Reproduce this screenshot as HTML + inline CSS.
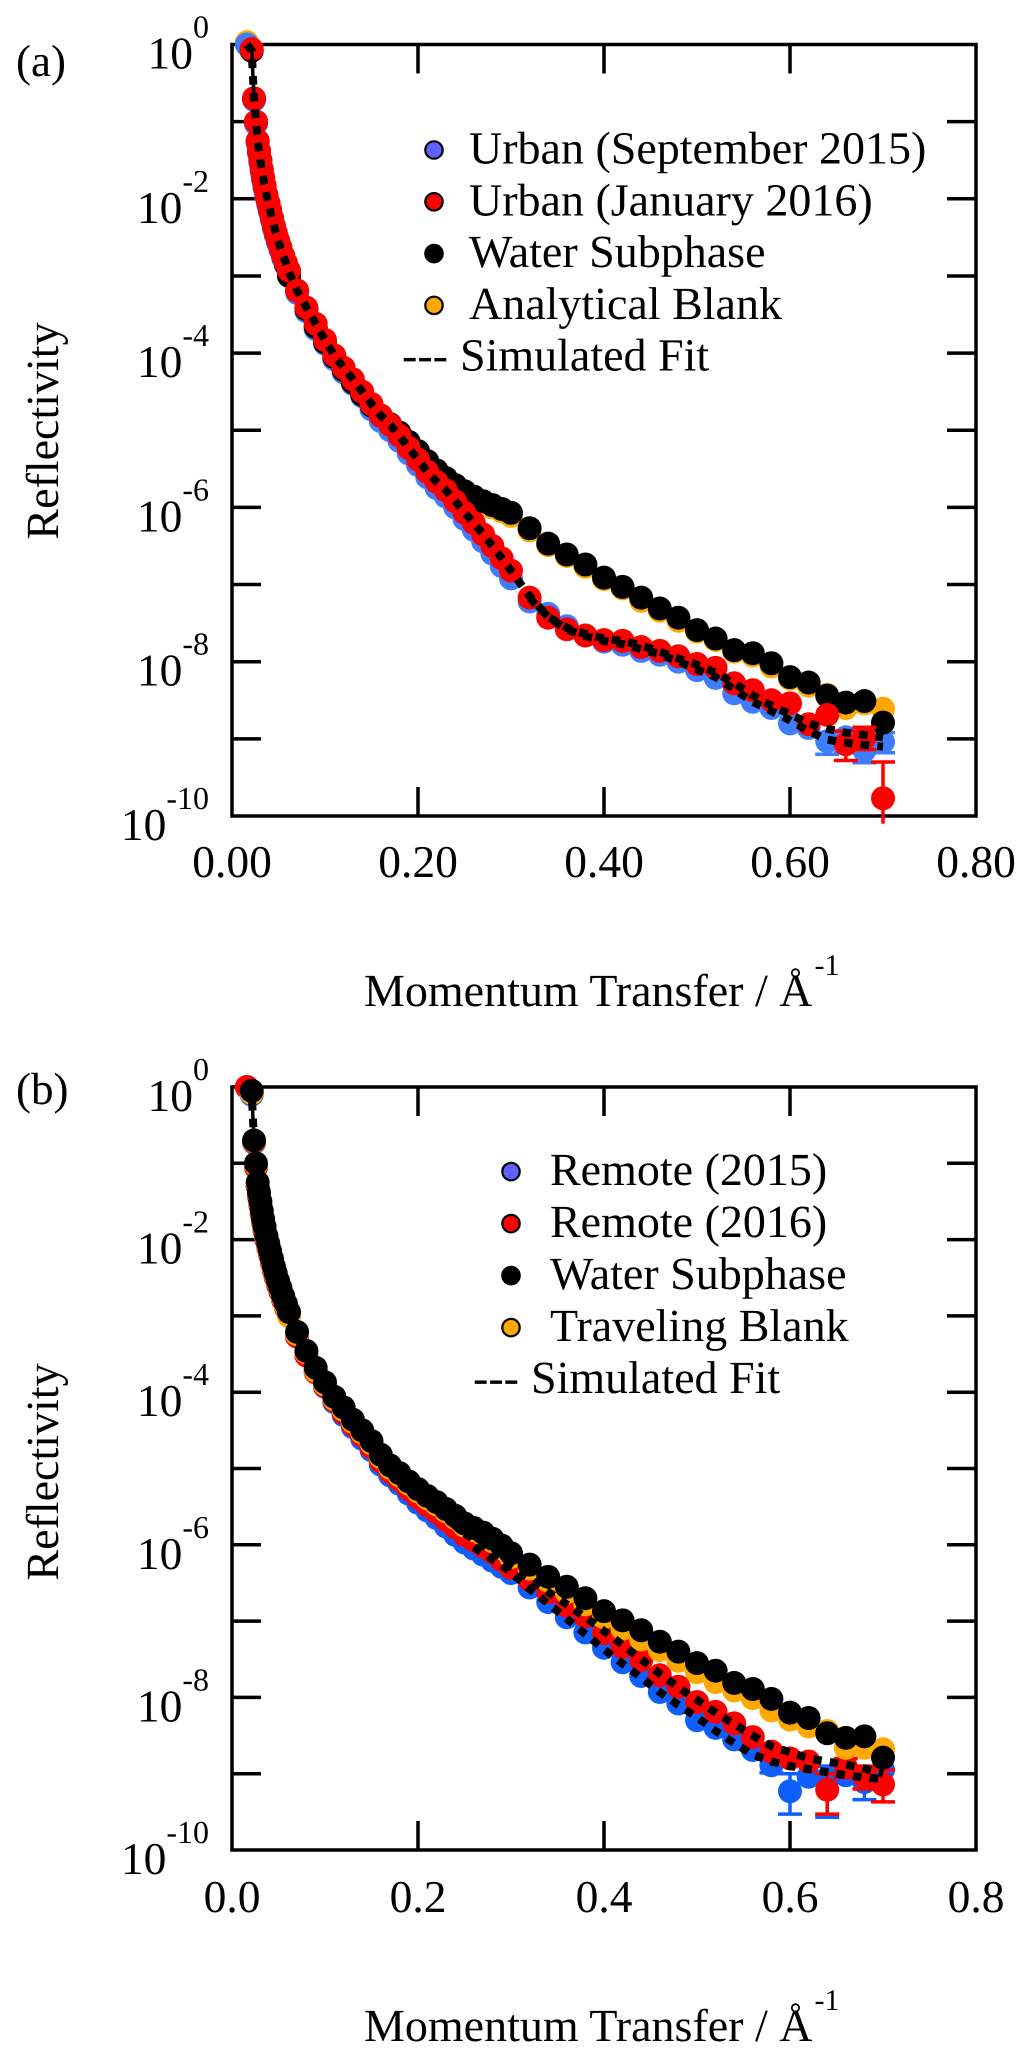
<!DOCTYPE html>
<html lang="en">
<head>
<meta charset="utf-8">
<title>Reflectivity vs Momentum Transfer</title>
<style>
html,body{margin:0;padding:0;background:#fff;}
svg{display:block;}
text{font-family:"Liberation Serif","Times New Roman",serif;fill:#000;text-rendering:geometricPrecision;}
</style>
</head>
<body>
<svg id="figure" xmlns="http://www.w3.org/2000/svg" width="1033" height="2056" viewBox="0 0 1033 2056">
  <rect width="1033" height="2056" fill="#fff"/>
  <g id="panelA"></g>
  <g id="panelB"></g>
</svg>
<script>
// Shared data: momentum transfer grid (1/Angstrom)
const qValues = [0.016,0.0212,0.0237,0.0258,0.0276,0.029,0.0305,0.032,0.0335,0.035,0.037,0.039,0.041,0.043,0.045,0.047,0.0495,0.052,0.055,0.058,0.0613,0.07,0.08,0.09,
  0.10,0.11,0.12,0.13,0.14,0.15,0.16,0.17,0.18,0.19,0.20,0.21,0.22,0.23,0.24,0.25,0.26,0.27,0.28,0.29,0.30,
  0.32,0.34,0.36,0.38,0.40,0.42,0.44,0.46,0.48,0.50,0.52,0.54,0.56,0.58,0.60,0.62,0.64,0.66,0.68,0.70];

// Tick labels
const xTicks = [0,0.2,0.4,0.6,0.8];
const xLabelsA = ['0.00','0.20','0.40','0.60','0.80'];
const xLabelsB = ['0.0','0.2','0.4','0.6','0.8'];
const yDecades = [0,-1,-2,-3,-4,-5,-6,-7,-8,-9,-10];
const yLabelled = [0,-2,-4,-6,-8,-10];

// Panel (a): log10(reflectivity) per q
const urbanSep2015 = [0,-0.08,-0.72,-1.03,-1.28,-1.41,-1.53,-1.65,-1.76,-1.86,-1.98,-2.08,-2.18,-2.28,-2.38,-2.47,-2.57,-2.66,-2.77,-2.86,-2.97,-3.22,-3.46,-3.69,
  -3.88,-4.08,-4.25,-4.4,-4.56,-4.73,-4.88,-5.0,-5.14,-5.3,-5.45,-5.61,-5.75,-5.86,-6.0,-6.15,-6.29,-6.44,-6.6,-6.76,-6.92,
  -7.22,-7.38,-7.54,-7.66,-7.74,-7.78,-7.86,-7.91,-8.0,-8.11,-8.21,-8.41,-8.52,-8.6,-8.8,-8.86,-9.03,-8.98,-9.15,-9.04];
const urbanJan2016 = [null,-0.06,-0.7,-1.0,-1.25,-1.38,-1.5,-1.62,-1.73,-1.83,-1.95,-2.05,-2.15,-2.25,-2.35,-2.44,-2.54,-2.63,-2.74,-2.83,-2.93,-3.19,-3.41,-3.62,
  -3.83,-4.03,-4.19,-4.34,-4.5,-4.66,-4.81,-4.93,-5.07,-5.23,-5.38,-5.54,-5.67,-5.78,-5.92,-6.07,-6.2,-6.35,-6.5,-6.66,-6.82,
  -7.17,-7.43,-7.58,-7.66,-7.72,-7.73,-7.81,-7.86,-7.93,-8.03,-8.08,-8.28,-8.37,-8.50,-8.54,-8.81,-8.69,-9.07,-8.99,-9.77];
const waterA = [null,-0.08,-0.7,-1.0,-1.25,-1.38,-1.5,-1.62,-1.73,-1.83,-1.95,-2.05,-2.15,-2.25,-2.35,-2.44,-2.54,-2.63,-2.74,-2.85,-3.0,-3.19,-3.43,-3.66,
  -3.86,-4.05,-4.22,-4.38,-4.54,-4.68,-4.81,-4.92,-5.03,-5.15,-5.27,-5.4,-5.52,-5.62,-5.71,-5.79,-5.86,-5.92,-5.97,-6.02,-6.07,
  -6.27,-6.47,-6.61,-6.74,-6.91,-7.03,-7.17,-7.31,-7.43,-7.59,-7.70,-7.85,-7.89,-8.02,-8.20,-8.27,-8.44,-8.53,-8.51,-8.79];
const blankA = [0.03,-0.08,-0.7,-1.0,-1.25,-1.38,-1.5,-1.62,-1.73,-1.83,-1.95,-2.05,-2.15,-2.25,-2.35,-2.44,-2.54,-2.63,-2.74,-2.85,-3.0,-3.19,-3.43,-3.66,
  -3.86,-4.05,-4.23,-4.39,-4.55,-4.69,-4.82,-4.94,-5.05,-5.17,-5.29,-5.42,-5.54,-5.64,-5.73,-5.81,-5.88,-5.94,-6.0,-6.05,-6.11,
  -6.3,-6.49,-6.63,-6.77,-6.93,-7.05,-7.21,-7.34,-7.47,-7.61,-7.72,-7.87,-7.92,-8.06,-8.22,-8.31,-8.43,-8.6,-8.54,-8.61];
const fitRedA = [0,-0.08,-0.7,-1.0,-1.25,-1.38,-1.5,-1.62,-1.73,-1.83,-1.95,-2.05,-2.15,-2.25,-2.35,-2.44,-2.54,-2.63,-2.74,-2.83,-2.95,-3.19,-3.41,-3.62,
  -3.83,-4.03,-4.19,-4.34,-4.5,-4.66,-4.81,-4.93,-5.07,-5.23,-5.38,-5.54,-5.67,-5.78,-5.92,-6.07,-6.2,-6.35,-6.5,-6.66,-6.82,
  -7.15,-7.42,-7.56,-7.64,-7.70,-7.73,-7.79,-7.87,-7.96,-8.04,-8.14,-8.28,-8.44,-8.57,-8.68,-8.80,-8.87,-8.92,-8.95,-8.98];
const fitBlueA = [null,null,null,null,null,null,null,null,null,null,null,null,null,null,null,null,null,null,null,null,null,null,null,null,
  null,null,null,null,null,null,null,null,null,null,null,null,null,null,null,null,null,null,null,null,null,
  -7.18,-7.42,-7.58,-7.67,-7.73,-7.77,-7.84,-7.90,-8.0,-8.10,-8.2,-8.36,-8.52,-8.64,-8.76,-8.9,-9.01,-9.05,-9.08,-9.1];
const errBlueQA = [0.64,0.66,0.68,0.70];
const errBlueLowA = [-9.2,-9.18,-9.31,-9.18];
const errBlueHighA = [-8.95,-8.9,-9.05,-8.92];
const errRedQA = [0.66,0.68,0.70];
const errRedLowA = [-9.28,-9.14,-10.1];
const errRedHighA = [-8.9,-8.85,-9.3];

// Panel (b): log10(reflectivity) per q
const remote2015 = [0,-0.1,-0.73,-1.05,-1.3,-1.43,-1.55,-1.67,-1.78,-1.88,-2.0,-2.1,-2.2,-2.3,-2.4,-2.49,-2.59,-2.68,-2.79,-2.88,-2.99,-3.27,-3.5,-3.73,
  -3.93,-4.13,-4.3,-4.46,-4.61,-4.76,-4.95,-5.09,-5.2,-5.33,-5.45,-5.55,-5.65,-5.76,-5.87,-5.97,-6.05,-6.13,-6.21,-6.29,-6.37,
  -6.56,-6.75,-6.95,-7.15,-7.35,-7.54,-7.72,-7.93,-8.08,-8.3,-8.4,-8.55,-8.69,-8.89,-9.23,-9.04,-9.06,-9.02,-9.11,-8.95];
const remote2016 = [0,-0.08,-0.72,-1.05,-1.3,-1.43,-1.55,-1.67,-1.78,-1.88,-2.0,-2.1,-2.2,-2.3,-2.4,-2.49,-2.59,-2.68,-2.79,-2.89,-3.0,-3.27,-3.52,-3.74,
  -3.92,-4.11,-4.27,-4.43,-4.57,-4.72,-4.9,-5.04,-5.15,-5.27,-5.38,-5.48,-5.57,-5.67,-5.77,-5.87,-5.94,-6.02,-6.1,-6.2,-6.3,
  -6.46,-6.62,-6.8,-6.94,-7.16,-7.34,-7.51,-7.71,-7.86,-8.06,-8.19,-8.34,-8.52,-8.71,-8.8,-8.84,-9.21,-8.91,-9.04,-9.14];
const waterB = [null,-0.05,-0.7,-1.0,-1.25,-1.38,-1.5,-1.62,-1.73,-1.83,-1.95,-2.05,-2.15,-2.25,-2.35,-2.44,-2.54,-2.63,-2.74,-2.84,-2.95,-3.21,-3.46,-3.68,
  -3.87,-4.06,-4.2,-4.36,-4.5,-4.64,-4.82,-4.96,-5.06,-5.17,-5.27,-5.36,-5.44,-5.53,-5.62,-5.72,-5.78,-5.84,-5.92,-6.01,-6.11,
  -6.26,-6.42,-6.55,-6.7,-6.87,-6.99,-7.12,-7.27,-7.4,-7.55,-7.65,-7.81,-7.89,-8.02,-8.2,-8.27,-8.47,-8.53,-8.51,-8.79];
const blankB = [null,-0.08,-0.71,-1.02,-1.27,-1.4,-1.52,-1.64,-1.75,-1.85,-1.97,-2.07,-2.17,-2.27,-2.37,-2.46,-2.56,-2.65,-2.76,-2.87,-3.0,-3.24,-3.48,-3.72,
  -3.9,-4.09,-4.23,-4.39,-4.53,-4.67,-4.85,-4.99,-5.09,-5.2,-5.3,-5.39,-5.47,-5.56,-5.65,-5.75,-5.81,-5.87,-5.95,-6.05,-6.16,
  -6.31,-6.47,-6.62,-6.78,-6.95,-7.1,-7.24,-7.38,-7.52,-7.67,-7.8,-7.91,-8.01,-8.17,-8.29,-8.38,-8.44,-8.66,-8.66,-8.68];
const fitRedB = [0,-0.08,-0.7,-1.0,-1.25,-1.38,-1.5,-1.62,-1.73,-1.83,-1.95,-2.05,-2.15,-2.25,-2.35,-2.44,-2.54,-2.63,-2.74,-2.84,-2.95,-3.21,-3.46,-3.68,
  -3.9,-4.09,-4.25,-4.41,-4.55,-4.7,-4.88,-5.02,-5.13,-5.25,-5.36,-5.46,-5.55,-5.65,-5.75,-5.85,-5.93,-6.01,-6.09,-6.19,-6.29,
  -6.45,-6.62,-6.78,-6.95,-7.13,-7.31,-7.5,-7.69,-7.87,-8.03,-8.2,-8.35,-8.5,-8.64,-8.72,-8.8,-8.84,-8.88,-8.93,-9.0];
const fitBlueB = [null,null,null,null,null,null,null,null,null,null,null,null,null,null,null,null,null,null,null,null,null,null,null,null,
  null,null,null,null,null,null,null,null,null,null,null,null,null,null,null,null,-6.03,-6.11,-6.19,-6.27,-6.36,
  -6.58,-6.77,-6.97,-7.17,-7.37,-7.56,-7.74,-7.93,-8.1,-8.26,-8.44,-8.6,-8.75,-8.84,-8.9,-8.94,-8.98,-9.02,-9.05,-9.07];
const errBlueQB = [0.58,0.60,0.64,0.68];
const errBlueLowB = [-8.99,-9.53,-9.57,-9.34];
const errBlueHighB = [-8.79,-9.0,-8.9,-8.95];
const errRedQB = [0.64,0.66,0.68,0.70];
const errRedLowB = [-9.53,-9.05,-9.2,-9.37];
const errRedHighB = [-9.0,-8.8,-8.9,-8.95];

const SVGNS = 'http://www.w3.org/2000/svg';
const MARKER_R = 12;
function mk(tag, attrs, parent){
  const el = document.createElementNS(SVGNS, tag);
  for (const k in attrs) el.setAttribute(k, attrs[k]);
  parent.appendChild(el);
  return el;
}

function drawPanel(cfg){
  const g = cfg.root;
  const L = 232, R = 976, T = cfg.top, B = cfg.bottom;
  const xs = q => L + (q / 0.8) * (R - L);
  const ys = v => T + (-v / 10) * (B - T);
  const TICK = 29;

  function series(values, color, name){
    const sg = mk('g', {}, g);
    
    
    qValues.forEach((q, i) => {
      if (values[i] === null) return;
      const c = mk('circle', {cx: xs(q), cy: ys(values[i]), r: MARKER_R, fill: color}, sg);
      
      
    });
  }
  function errors(qs, lows, highs, color, name){
    const eg = mk('g', {stroke: color, 'stroke-width': 3.5, fill: 'none'}, g);
    
    
    qs.forEach((q, i) => {
      const x = xs(q), yl = ys(lows[i]), yh = ys(highs[i]);
      const stem = mk('line', {x1: x, x2: x, y1: yh, y2: yl}, eg);
      
      
      const capHigh = mk('line', {x1: x - 12, x2: x + 12, y1: yh, y2: yh}, eg);
      
      
      if (lows[i] > -10) {
        const capLow = mk('line', {x1: x - 12, x2: x + 12, y1: yl, y2: yl}, eg);
        
        
      }
    });
  }
  function fit(values, name){
    let d = '';
    qValues.forEach((q, i) => {
      if (values[i] === null) return;
      d += (d ? 'L' : 'M') + xs(q).toFixed(1) + ' ' + ys(values[i]).toFixed(1);
    });
    const p = mk('path', {d: d, fill: 'none', stroke: '#000', 'stroke-width': 8, 'stroke-dasharray': '8.5 8.2'}, g);
    
    
  }
  function fitStem(values){
    const st = mk('line', {x1: xs(qValues[1]), x2: xs(qValues[2]), y1: ys(values[1]), y2: ys(values[2]), stroke: '#000', 'stroke-width': 3.5}, g);
    
    
  }

  // Axes frame
  const frame = mk('rect', {x: L, y: T, width: R - L, height: B - T, fill: 'none', stroke: '#000', 'stroke-width': 3.5}, g);
  
  

  // X ticks (inner only, top and bottom) and labels
  xTicks.forEach((q, i) => {
    if (i > 0 && i < xTicks.length - 1) {
      const t1 = mk('line', {x1: xs(q), x2: xs(q), y1: T, y2: T + TICK, stroke: '#000', 'stroke-width': 3.5}, g);
      
      
      const t2 = mk('line', {x1: xs(q), x2: xs(q), y1: B, y2: B - TICK, stroke: '#000', 'stroke-width': 3.5}, g);
      
      
    }
    const lab = mk('text', {x: xs(q), y: cfg.xLabelY, 'font-size': 45.5, 'text-anchor': 'middle'}, g);
    lab.textContent = cfg.xLabels[i];
    
    
  });

  // Y ticks and labels
  yDecades.forEach(v => {
    if (v !== 0 && v !== -10) {
      const t1 = mk('line', {x1: L, x2: L + TICK, y1: ys(v), y2: ys(v), stroke: '#000', 'stroke-width': 3.5}, g);
      
      
      const t2 = mk('line', {x1: R, x2: R - TICK, y1: ys(v), y2: ys(v), stroke: '#000', 'stroke-width': 3.5}, g);
      
      
    }
  });
  yLabelled.forEach(v => {
    const lab = mk('text', {x: 209, y: ys(v) + 24, 'font-size': 45.5, 'text-anchor': 'end'}, g);
    
    
    const base = mk('tspan', {}, lab);
    base.textContent = '10';
    const exp = mk('tspan', {dy: -31, 'font-size': 32}, lab);
    exp.textContent = String(v);
  });

  // Data
  cfg.draw({series, errors, fit, fitStem});

  // Panel letter
  const letter = mk('text', {x: 16, y: cfg.letterY, 'font-size': 45}, g);
  letter.textContent = cfg.letter;
  
  

  // Axis titles
  const yt = mk('text', {transform: 'translate(58,' + cfg.yTitleCy + ') rotate(-90)', 'font-size': 46, 'text-anchor': 'middle'}, g);
  yt.textContent = 'Reflectivity';
  
  
  const xt = mk('text', {x: 364, y: cfg.xTitleY, 'font-size': 46}, g);
  
  
  const xb = mk('tspan', {}, xt);
  xb.textContent = 'Momentum Transfer / Å';
  const xs1 = mk('tspan', {dy: -31, dx: 2, 'font-size': 30}, xt);
  xs1.textContent = '-1';

  // Legend
  const lg = mk('g', {}, g);
  
  
  cfg.legend.forEach((e, i) => {
    const cy = cfg.legendY + i * cfg.legendStep;
    const dot = mk('circle', {cx: cfg.legendX, cy: cy, r: 8.7, fill: e.color, stroke: '#000', 'stroke-width': 2.2}, lg);
    
    
    const tx = mk('text', {x: cfg.legendTextX, y: cy + 13.5, 'font-size': 46}, lg);
    tx.textContent = e.label;
    
    
  });
  const fy = cfg.legendY + 4 * cfg.legendStep + 13.5;
  const dash = mk('text', {x: cfg.dashX, y: fy, 'font-size': 46}, lg);
  dash.textContent = '---';
  
  
  const fl = mk('text', {x: cfg.dashX + 58, y: fy, 'font-size': 46}, lg);
  fl.textContent = 'Simulated Fit';
  
  
}

drawPanel({
  root: document.getElementById('panelA'),
  top: 44.5, bottom: 816,
  xLabels: xLabelsA, xLabelY: 877,
  letter: '(a)', letterY: 76,
  yTitleCy: 431, xTitleY: 1006,
  legendX: 434, legendTextX: 469, legendY: 150, legendStep: 51.8, dashX: 402,
  legend: [
    {label: 'Urban (September 2015)', color: '#6060ff'},
    {label: 'Urban (January 2016)', color: '#ff0000'},
    {label: 'Water Subphase', color: '#000000'},
    {label: 'Analytical Blank', color: '#ffa900'}
  ],
  draw: ({series, errors, fit, fitStem}) => {
    series(blankA, '#ffa900', 'series-analytical-blank');
    errors(errBlueQA, errBlueLowA, errBlueHighA, '#3f7dff', 'urban-2015-error-bars');
    series(urbanSep2015, '#3f7dff', 'series-urban-2015');
    series(waterA, '#000000', 'series-water-subphase');
    errors(errRedQA, errRedLowA, errRedHighA, '#ff0000', 'urban-2016-error-bars');
    series(urbanJan2016, '#ff0000', 'series-urban-2016');
    fitStem(fitRedA);
    fit(fitRedA, 'simulated-fit-urban-2016');
    fit(fitBlueA, 'simulated-fit-urban-2015');
  }
});

drawPanel({
  root: document.getElementById('panelB'),
  top: 1087, bottom: 1850,
  xLabels: xLabelsB, xLabelY: 1912,
  letter: '(b)', letterY: 1104,
  yTitleCy: 1472, xTitleY: 2041,
  legendX: 511, legendTextX: 550, legendY: 1171.6, legendStep: 52, dashX: 473,
  legend: [
    {label: 'Remote (2015)', color: '#6060ff'},
    {label: 'Remote (2016)', color: '#ff0000'},
    {label: 'Water Subphase', color: '#000000'},
    {label: 'Traveling Blank', color: '#ffa900'}
  ],
  draw: ({series, errors, fit, fitStem}) => {
    errors(errBlueQB, errBlueLowB, errBlueHighB, '#0f5fff', 'remote-2015-error-bars');
    series(remote2015, '#0f5fff', 'series-remote-2015');
    errors(errRedQB, errRedLowB, errRedHighB, '#ff0000', 'remote-2016-error-bars');
    series(remote2016, '#ff0000', 'series-remote-2016');
    series(blankB, '#ffa900', 'series-traveling-blank');
    fitStem(fitRedB);
    series(waterB, '#000000', 'series-water-subphase');
    fit(fitRedB, 'simulated-fit-remote-2016');
    fit(fitBlueB, 'simulated-fit-remote-2015');
  }
});
</script>
</body>
</html>
